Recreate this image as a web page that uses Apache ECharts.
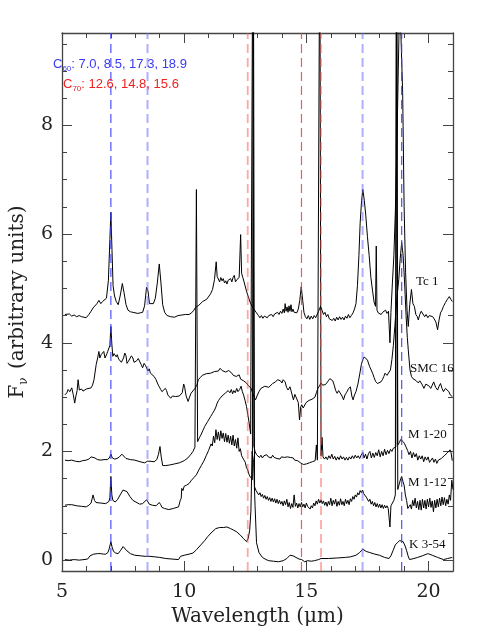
<!DOCTYPE html>
<html><head><meta charset="utf-8">
<script src="https://cdn.jsdelivr.net/npm/echarts@6/dist/echarts.min.js"></script>
<style>html,body{margin:0;padding:0;background:#fff}#c{width:477px;height:635px}</style>
</head><body><div id="c"></div>
<script>
// ---------------- data ----------------
const X_MIN = 5, X_MAX = 21, Y_MIN = -0.2, Y_MAX = 9.7;
const xTickLabels = [5, 10, 15, 20];
const xMinorTicks = [6, 7, 8, 9, 11, 12, 13, 14, 16, 17, 18, 19];
const yTickLabels = [0, 2, 4, 6, 8];
const yMinorTicks = [0.5, 1, 1.5, 2.5, 3, 3.5, 4.5, 5, 5.5, 6.5, 7, 7.5, 8.5, 9, 9.5];

const c60Lines = [7.0, 8.5, 17.3, 18.9];
const c70Lines = [12.6, 14.8, 15.6];
const spectrumNames = ['Tc 1', 'SMC 16', 'M 1-20', 'M 1-12', 'K 3-54'];

const tc1 = [[5.12,4.52],[5.20,4.50],[5.30,4.53],[5.40,4.49],[5.50,4.51],[5.60,4.48],[5.70,4.50],[5.80,4.48],[5.90,4.47],[5.99,4.46],[6.10,4.52],[6.19,4.58],[6.27,4.64],[6.35,4.66],[6.43,4.72],[6.51,4.78],[6.59,4.72],[6.66,4.76],[6.74,4.74],[6.82,4.82],[6.90,5.15],[6.96,5.90],[7.00,6.40],[7.04,5.80],[7.09,5.05],[7.15,4.86],[7.22,4.76],[7.30,4.70],[7.38,4.86],[7.47,5.09],[7.54,4.92],[7.62,4.70],[7.70,4.60],[7.80,4.57],[7.90,4.56],[7.98,4.55],[8.10,4.54],[8.20,4.55],[8.30,4.56],[8.38,4.68],[8.46,5.02],[8.52,4.95],[8.58,4.72],[8.66,4.70],[8.74,4.72],[8.82,4.82],[8.90,5.10],[8.98,5.45],[9.05,5.10],[9.12,4.70],[9.20,4.56],[9.30,4.50],[9.45,4.48],[9.60,4.47],[9.75,4.50],[9.90,4.51],[10.05,4.52],[10.20,4.52],[10.30,4.55],[10.40,4.60],[10.46,4.65],[10.52,4.62],[10.60,4.69],[10.68,4.72],[10.76,4.76],[10.84,4.74],[10.92,4.80],[11.00,4.82],[11.08,4.90],[11.16,4.98],[11.24,5.16],[11.31,5.49],[11.35,5.22],[11.40,5.20],[11.45,5.12],[11.50,5.20],[11.55,5.14],[11.60,5.18],[11.65,5.10],[11.70,5.14],[11.75,5.08],[11.80,5.15],[11.85,5.12],[11.90,5.18],[11.95,5.12],[12.00,5.20],[12.05,5.24],[12.10,5.12],[12.15,5.16],[12.20,5.13],[12.25,5.20],[12.31,5.99],[12.35,5.28],[12.40,5.20],[12.45,5.12],[12.50,5.10],[12.55,4.95],[12.60,4.88],[12.66,4.80],[12.72,4.72],[12.80,4.66],[12.88,4.60],[12.96,4.55],[13.04,4.50],[13.10,4.46],[13.16,4.50],[13.22,4.45],[13.28,4.49],[13.34,4.52],[13.40,4.46],[13.46,4.50],[13.52,4.47],[13.58,4.52],[13.64,4.48],[13.70,4.53],[13.76,4.50],[13.82,4.56],[13.88,4.52],[13.94,4.58],[14.00,4.54],[14.05,4.62],[14.10,4.55],[14.13,4.72],[14.17,4.58],[14.21,4.66],[14.25,4.56],[14.29,4.68],[14.33,4.58],[14.37,4.70],[14.41,4.57],[14.45,4.62],[14.50,4.56],[14.55,4.58],[14.61,4.55],[14.67,4.62],[14.73,4.78],[14.79,5.03],[14.85,4.78],[14.90,4.56],[14.96,4.48],[15.02,4.44],[15.08,4.50],[15.14,4.43],[15.20,4.49],[15.26,4.44],[15.32,4.50],[15.38,4.46],[15.44,4.48],[15.50,4.58],[15.58,4.67],[15.64,4.60],[15.70,4.52],[15.76,4.56],[15.82,4.48],[15.88,4.52],[15.94,4.44],[16.00,4.46],[16.06,4.41],[16.12,4.45],[16.18,4.40],[16.24,4.47],[16.30,4.42],[16.36,4.48],[16.42,4.43],[16.48,4.47],[16.54,4.42],[16.60,4.49],[16.66,4.45],[16.72,4.52],[16.78,4.46],[16.84,4.50],[16.91,4.55],[16.97,4.62],[17.03,4.72],[17.09,5.05],[17.15,5.60],[17.20,6.20],[17.26,6.62],[17.31,6.82],[17.37,6.62],[17.43,6.35],[17.50,5.95],[17.57,5.60],[17.64,5.20],[17.71,4.95],[17.77,4.75],[17.83,4.67],[17.86,5.78],[17.89,4.60],[17.94,4.55],[18.00,4.58],[18.06,4.52],[18.12,4.56],[18.18,4.54],[18.24,4.60],[18.30,4.54],[18.36,4.58],[18.42,4.00],[18.46,4.56],[18.52,5.10],[18.58,5.60],[18.64,6.40],[18.70,7.50],[18.76,9.00],[18.82,10.40],[18.88,10.40],[18.94,8.60],[19.00,6.50],[19.06,5.30],[19.12,4.60],[19.17,4.30],[19.23,4.70],[19.30,4.98],[19.36,4.72],[19.42,4.67],[19.48,4.52],[19.54,4.48],[19.58,4.42],[19.64,4.52],[19.70,4.58],[19.77,4.55],[19.84,4.48],[19.90,4.52],[19.97,4.46],[20.03,4.50],[20.10,4.52],[20.17,4.48],[20.23,4.44],[20.30,4.38],[20.37,4.24],[20.43,4.42],[20.49,4.55],[20.55,4.60],[20.61,4.67],[20.69,4.74],[20.77,4.80],[20.85,4.85],[20.91,4.80],[20.97,4.76]];

const smc16 = [[5.12,3.04],[5.20,3.08],[5.25,3.14],[5.32,3.10],[5.40,3.17],[5.46,3.05],[5.52,2.89],[5.57,3.02],[5.62,3.12],[5.66,3.32],[5.71,3.13],[5.80,3.15],[5.86,3.11],[5.91,3.10],[6.00,3.15],[6.08,3.13],[6.19,3.17],[6.25,3.22],[6.31,3.32],[6.40,3.60],[6.46,3.72],[6.51,3.84],[6.55,3.72],[6.60,3.78],[6.66,3.75],[6.71,3.84],[6.76,3.72],[6.79,3.69],[6.84,3.80],[6.87,3.84],[6.92,3.82],[6.96,3.95],[7.00,4.30],[7.04,3.98],[7.08,3.75],[7.13,3.80],[7.18,3.82],[7.22,3.74],[7.26,3.78],[7.32,3.70],[7.38,3.69],[7.43,3.64],[7.47,3.62],[7.52,3.72],[7.57,3.81],[7.62,3.76],[7.66,3.62],[7.72,3.66],[7.78,3.63],[7.84,3.76],[7.90,3.72],[7.95,3.64],[7.99,3.62],[8.06,3.67],[8.12,3.71],[8.18,3.68],[8.24,3.60],[8.30,3.54],[8.36,3.62],[8.42,3.58],[8.46,3.59],[8.52,3.48],[8.57,3.52],[8.62,3.44],[8.68,3.46],[8.77,3.38],[8.85,3.32],[8.92,3.24],[8.98,3.19],[9.04,3.14],[9.09,3.10],[9.17,3.07],[9.23,3.16],[9.28,3.12],[9.33,3.04],[9.40,3.02],[9.45,2.98],[9.52,3.02],[9.57,3.05],[9.65,3.01],[9.72,2.98],[9.80,3.02],[9.86,3.04],[9.92,3.08],[9.98,3.24],[10.02,3.18],[10.08,3.02],[10.16,2.92],[10.22,3.00],[10.28,3.07],[10.36,3.10],[10.44,3.16],[10.52,3.22],[10.58,3.32],[10.66,3.36],[10.74,3.40],[10.82,3.38],[10.90,3.43],[10.98,3.41],[11.08,3.44],[11.16,3.46],[11.24,3.47],[11.32,3.44],[11.40,3.48],[11.47,3.53],[11.55,3.49],[11.63,3.51],[11.70,3.46],[11.76,3.44],[11.82,3.49],[11.88,3.48],[11.95,3.44],[12.01,3.40],[12.07,3.42],[12.13,3.38],[12.19,3.36],[12.25,3.41],[12.31,3.33],[12.37,3.35],[12.43,3.30],[12.49,3.28],[12.55,3.26],[12.61,3.22],[12.66,3.19],[12.74,3.16],[12.80,3.08],[12.86,3.00],[12.92,2.95],[12.98,3.02],[13.06,3.10],[13.14,3.16],[13.22,3.19],[13.30,3.20],[13.38,3.17],[13.46,3.18],[13.54,3.19],[13.62,3.25],[13.68,3.22],[13.74,3.28],[13.82,3.32],[13.88,3.29],[13.94,3.30],[14.00,3.26],[14.05,3.32],[14.13,3.28],[14.19,3.18],[14.25,3.13],[14.33,3.19],[14.41,3.20],[14.47,2.95],[14.53,3.05],[14.61,3.07],[14.67,2.90],[14.72,2.58],[14.77,2.82],[14.81,2.86],[14.87,2.80],[14.93,2.83],[14.99,2.90],[15.05,2.88],[15.11,2.94],[15.17,2.92],[15.23,2.96],[15.29,2.95],[15.35,3.00],[15.41,3.08],[15.47,3.16],[15.53,3.20],[15.60,3.26],[15.66,3.22],[15.72,3.19],[15.78,3.23],[15.84,3.26],[15.90,3.30],[15.96,3.34],[16.02,3.35],[16.08,3.30],[16.14,3.22],[16.20,3.12],[16.26,3.07],[16.32,3.12],[16.40,3.10],[16.46,3.02],[16.52,2.95],[16.58,3.04],[16.64,3.08],[16.72,3.15],[16.80,3.19],[16.86,3.02],[16.91,2.95],[16.97,3.04],[17.03,3.10],[17.11,3.24],[17.19,3.44],[17.25,3.60],[17.31,3.69],[17.37,3.74],[17.43,3.75],[17.50,3.68],[17.59,3.56],[17.65,3.50],[17.71,3.44],[17.77,3.36],[17.83,3.29],[17.91,3.25],[17.99,3.23],[18.05,3.28],[18.11,3.32],[18.17,3.38],[18.22,3.44],[18.30,3.40],[18.38,3.38],[18.44,3.50],[18.50,3.69],[18.56,3.95],[18.62,4.30],[18.70,4.80],[18.78,5.16],[18.84,5.55],[18.90,5.85],[18.96,5.60],[19.02,5.10],[19.08,4.50],[19.13,4.10],[19.17,3.87],[19.24,3.50],[19.30,3.38],[19.36,3.34],[19.42,3.32],[19.50,3.30],[19.58,3.26],[19.64,3.30],[19.69,3.29],[19.75,3.22],[19.81,3.16],[19.89,3.24],[19.97,3.26],[20.03,3.20],[20.09,3.16],[20.15,3.22],[20.21,3.28],[20.29,3.18],[20.37,3.13],[20.43,3.20],[20.49,3.25],[20.55,3.16],[20.61,3.10],[20.69,3.16],[20.77,3.19],[20.83,3.10],[20.89,3.04],[20.97,3.01]];

const m120 = [[5.12,1.84],[5.25,1.83],[5.40,1.84],[5.55,1.82],[5.70,1.81],[5.85,1.83],[5.99,1.84],[6.10,1.86],[6.19,1.90],[6.27,1.93],[6.35,1.88],[6.45,1.85],[6.59,1.84],[6.72,1.85],[6.85,1.85],[6.94,1.88],[7.00,1.95],[7.06,1.88],[7.15,1.86],[7.25,1.87],[7.35,1.90],[7.45,1.95],[7.52,1.92],[7.62,1.87],[7.80,1.85],[7.98,1.84],[8.20,1.81],[8.38,1.79],[8.50,1.82],[8.60,1.82],[8.77,1.81],[8.88,1.85],[8.95,1.95],[9.01,2.09],[9.06,1.90],[9.12,1.74],[9.25,1.74],[9.40,1.75],[9.60,1.77],[9.80,1.79],[10.00,1.83],[10.15,1.88],[10.28,1.95],[10.36,2.00],[10.44,2.08],[10.50,6.82],[10.55,2.18],[10.62,2.25],[10.68,2.30],[10.76,2.38],[10.84,2.46],[10.96,2.55],[11.08,2.64],[11.16,2.70],[11.24,2.76],[11.30,2.82],[11.35,2.89],[11.41,2.94],[11.47,2.98],[11.55,3.02],[11.63,3.04],[11.70,3.08],[11.75,3.05],[11.80,3.12],[11.87,3.08],[11.93,3.14],[11.98,3.06],[12.03,3.12],[12.09,3.08],[12.15,3.16],[12.20,3.10],[12.27,3.14],[12.33,3.20],[12.38,3.10],[12.43,3.04],[12.49,2.94],[12.55,2.83],[12.61,2.66],[12.66,2.52],[12.72,2.32],[12.77,2.30],[12.81,12.0],[12.85,2.10],[12.90,2.00],[12.96,1.94],[13.02,1.92],[13.08,1.89],[13.14,1.93],[13.20,1.88],[13.26,1.92],[13.32,1.89],[13.38,1.94],[13.44,1.90],[13.50,1.92],[13.56,1.88],[13.62,1.93],[13.68,1.89],[13.74,1.91],[13.80,1.87],[13.86,1.90],[13.92,1.86],[13.98,1.90],[14.04,1.87],[14.10,1.89],[14.16,1.86],[14.22,1.90],[14.28,1.87],[14.34,1.89],[14.40,1.86],[14.46,1.88],[14.52,1.84],[14.58,1.86],[14.64,1.83],[14.70,1.82],[14.76,1.79],[14.82,1.77],[14.88,1.76],[14.94,1.74],[15.00,1.77],[15.06,1.75],[15.12,1.79],[15.18,1.78],[15.24,1.81],[15.30,1.80],[15.36,1.83],[15.41,2.12],[15.45,1.84],[15.50,1.86],[15.55,12.0],[15.60,1.92],[15.64,2.26],[15.68,1.90],[15.74,1.86],[15.80,1.90],[15.86,1.85],[15.92,1.92],[15.98,1.87],[16.04,1.95],[16.10,1.86],[16.16,1.91],[16.22,1.84],[16.28,1.90],[16.34,1.85],[16.40,1.92],[16.46,1.86],[16.52,1.90],[16.58,1.84],[16.64,1.89],[16.70,1.84],[16.76,1.90],[16.82,1.86],[16.88,1.92],[16.94,1.87],[17.00,1.93],[17.06,1.88],[17.12,1.92],[17.18,1.87],[17.24,1.93],[17.31,1.98],[17.36,1.88],[17.42,1.95],[17.48,1.86],[17.54,1.96],[17.60,2.00],[17.66,1.88],[17.72,1.97],[17.78,1.89],[17.84,1.98],[17.90,1.92],[17.96,2.03],[18.02,1.90],[18.08,2.00],[18.14,1.92],[18.20,2.04],[18.26,1.94],[18.32,2.02],[18.38,1.96],[18.44,2.04],[18.50,2.00],[18.56,2.06],[18.62,2.05],[18.66,2.08],[18.70,12.0],[18.74,2.12],[18.80,2.16],[18.86,2.22],[18.90,2.24],[18.96,2.18],[19.02,2.14],[19.08,2.08],[19.14,2.02],[19.20,1.94],[19.26,2.00],[19.32,1.88],[19.38,1.98],[19.44,1.90],[19.50,1.96],[19.56,1.84],[19.62,1.92],[19.68,1.86],[19.74,1.92],[19.80,1.81],[19.86,1.90],[19.92,1.84],[19.98,1.90],[20.04,1.80],[20.10,1.78],[20.16,1.88],[20.22,1.80],[20.28,1.86],[20.34,1.78],[20.40,1.84],[20.46,1.82],[20.52,1.87],[20.58,1.85],[20.64,1.92],[20.70,1.90],[20.76,1.97],[20.82,1.95],[20.88,2.03],[20.92,1.98],[20.97,1.83]];

const m112 = [[5.12,1.01],[5.25,1.02],[5.40,1.02],[5.60,1.00],[5.80,0.99],[5.99,0.98],[6.10,1.01],[6.19,1.05],[6.27,1.20],[6.33,1.10],[6.39,1.06],[6.59,1.05],[6.79,1.04],[6.92,1.08],[6.96,1.15],[7.00,1.54],[7.04,1.20],[7.08,1.10],[7.18,1.07],[7.28,1.12],[7.38,1.20],[7.50,1.29],[7.58,1.28],[7.66,1.26],[7.78,1.17],[7.90,1.10],[7.98,1.07],[8.18,1.03],[8.30,1.04],[8.38,1.06],[8.46,1.11],[8.52,1.07],[8.57,1.03],[8.70,1.01],[8.85,1.00],[8.98,1.06],[9.04,1.02],[9.09,0.97],[9.20,0.95],[9.37,0.93],[9.55,0.95],[9.77,0.98],[9.84,1.10],[9.88,1.14],[9.90,1.32],[9.95,1.28],[10.00,1.36],[10.05,1.33],[10.10,1.38],[10.15,1.35],[10.20,1.41],[10.25,1.40],[10.30,1.47],[10.35,1.44],[10.40,1.52],[10.45,1.50],[10.50,1.57],[10.55,1.58],[10.60,1.66],[10.65,1.64],[10.70,1.74],[10.75,1.73],[10.80,1.82],[10.85,1.80],[10.90,1.92],[10.95,1.90],[11.00,2.02],[11.05,2.03],[11.10,2.14],[11.15,2.10],[11.20,2.28],[11.25,2.16],[11.30,2.40],[11.35,2.22],[11.40,2.36],[11.45,2.20],[11.50,2.38],[11.55,2.24],[11.60,2.34],[11.65,2.18],[11.70,2.33],[11.75,2.17],[11.80,2.30],[11.85,2.15],[11.90,2.28],[11.95,2.12],[12.00,2.30],[12.05,2.10],[12.10,2.22],[12.15,2.06],[12.20,2.25],[12.25,2.00],[12.30,2.05],[12.35,1.92],[12.40,1.95],[12.45,1.84],[12.50,1.80],[12.55,1.70],[12.60,1.66],[12.66,1.57],[12.72,1.52],[12.79,1.48],[12.83,12.0],[12.88,1.35],[12.94,1.28],[13.00,1.26],[13.05,1.20],[13.10,1.24],[13.15,1.17],[13.20,1.21],[13.25,1.14],[13.30,1.19],[13.35,1.12],[13.40,1.17],[13.45,1.10],[13.50,1.15],[13.55,1.08],[13.60,1.14],[13.65,1.07],[13.70,1.13],[13.75,1.05],[13.80,1.12],[13.85,1.04],[13.90,1.10],[13.95,1.03],[14.00,1.08],[14.05,1.00],[14.10,1.09],[14.15,1.02],[14.20,1.12],[14.25,0.98],[14.30,1.06],[14.35,0.95],[14.40,1.04],[14.45,0.97],[14.50,1.20],[14.55,0.99],[14.60,1.05],[14.65,0.96],[14.70,1.04],[14.75,0.98],[14.80,1.06],[14.85,0.98],[14.90,1.03],[14.95,0.96],[15.00,1.05],[15.05,0.99],[15.10,1.02],[15.15,0.94],[15.20,1.00],[15.25,0.96],[15.30,1.05],[15.35,1.00],[15.40,1.09],[15.45,1.03],[15.50,1.12],[15.55,1.05],[15.60,1.11],[15.65,1.04],[15.70,1.09],[15.75,1.01],[15.80,1.07],[15.85,0.99],[15.90,1.08],[15.95,1.02],[16.00,1.14],[16.05,1.00],[16.10,1.10],[16.15,1.03],[16.20,1.12],[16.25,0.99],[16.30,1.08],[16.35,1.01],[16.40,1.13],[16.45,1.02],[16.50,1.08],[16.55,1.00],[16.60,1.12],[16.65,1.04],[16.70,1.10],[16.75,1.02],[16.80,1.13],[16.85,1.08],[16.90,1.17],[16.95,1.12],[17.00,1.20],[17.05,1.16],[17.10,1.24],[17.15,1.20],[17.20,1.28],[17.25,1.24],[17.30,1.29],[17.35,1.22],[17.40,1.25],[17.45,1.16],[17.50,1.18],[17.55,1.08],[17.60,1.12],[17.65,1.03],[17.70,1.08],[17.75,1.00],[17.80,1.06],[17.85,0.98],[17.90,1.04],[17.95,0.97],[18.00,1.03],[18.05,0.96],[18.10,1.02],[18.15,0.95],[18.20,1.01],[18.25,0.96],[18.30,1.00],[18.35,0.95],[18.42,0.61],[18.46,1.00],[18.52,1.03],[18.58,1.10],[18.64,1.20],[18.68,12.0],[18.74,1.30],[18.80,1.40],[18.86,1.50],[18.90,1.54],[18.95,1.45],[19.00,1.38],[19.05,1.20],[19.10,1.10],[19.15,0.95],[19.20,0.92],[19.25,1.02],[19.30,0.94],[19.35,1.10],[19.40,1.00],[19.45,1.14],[19.50,0.96],[19.55,1.08],[19.60,0.93],[19.65,1.10],[19.70,0.92],[19.75,1.12],[19.80,0.96],[19.85,1.10],[19.90,0.94],[19.95,1.12],[20.00,0.98],[20.05,1.14],[20.10,0.97],[20.15,1.09],[20.20,0.89],[20.25,1.10],[20.30,0.96],[20.35,1.12],[20.40,0.98],[20.45,1.14],[20.50,1.00],[20.55,1.16],[20.60,1.02],[20.65,1.15],[20.70,1.00],[20.75,1.12],[20.80,1.03],[20.85,1.20],[20.90,1.10],[20.95,1.47],[21.00,1.30]];

const k354 = [[5.12,0.01],[5.30,0.00],[5.50,0.01],[5.70,0.00],[5.90,0.01],[6.05,0.02],[6.15,0.08],[6.20,0.10],[6.30,0.11],[6.45,0.12],[6.59,0.12],[6.70,0.11],[6.79,0.11],[6.88,0.14],[6.94,0.22],[7.00,0.34],[7.05,0.24],[7.11,0.16],[7.20,0.13],[7.30,0.12],[7.40,0.18],[7.50,0.25],[7.58,0.24],[7.66,0.17],[7.80,0.12],[7.98,0.09],[8.20,0.08],[8.40,0.07],[8.60,0.07],[8.80,0.06],[9.00,0.05],[9.25,0.03],[9.50,0.02],[9.77,0.01],[9.85,0.07],[10.00,0.09],[10.20,0.11],[10.36,0.13],[10.50,0.19],[10.68,0.28],[10.84,0.36],[10.96,0.43],[11.10,0.50],[11.29,0.58],[11.45,0.60],[11.60,0.60],[11.75,0.61],[11.90,0.58],[12.03,0.55],[12.15,0.52],[12.30,0.46],[12.42,0.40],[12.55,0.34],[12.62,0.40],[12.68,0.55],[12.73,0.90],[12.78,2.00],[12.84,1.80],[12.90,1.00],[12.96,0.32],[13.06,0.14],[13.20,0.05],[13.35,0.01],[13.46,-0.01],[13.65,-0.02],[13.86,-0.03],[14.05,-0.01],[14.20,0.03],[14.33,0.09],[14.45,0.08],[14.53,0.06],[14.70,0.02],[14.81,0.01],[14.93,-0.03],[15.05,-0.01],[15.20,-0.02],[15.33,-0.01],[15.50,0.01],[15.60,0.03],[15.90,0.03],[16.27,0.04],[16.60,0.05],[16.80,0.06],[17.03,0.09],[17.18,0.14],[17.31,0.20],[17.45,0.16],[17.59,0.14],[17.80,0.11],[17.99,0.09],[18.20,0.05],[18.38,0.03],[18.46,0.08],[18.55,0.18],[18.64,0.28],[18.72,0.32],[18.82,0.36],[18.96,0.34],[19.04,0.26],[19.10,0.18],[19.16,0.08],[19.22,0.01],[19.40,0.03],[19.55,0.05],[19.75,0.08],[19.97,0.12],[20.15,0.09],[20.37,0.05],[20.61,0.01],[20.78,0.03],[20.97,0.05]];

const spectra = [tc1, smc16, m120, m112, k354];

// ---------------- styling / layout ----------------
const AXIS_COLOR = '#444';
const serif = 'DejaVu Serif';
const strongLines = [7.0, 18.9, 14.8];

function xAxisDef(position, ticks, len, labels, line) {
  return {
    type: 'value', min: X_MIN, max: X_MAX, position: position, gridIndex: 0,
    axisLine: {show: line, onZero: false, lineStyle: {color: AXIS_COLOR, width: 1.3}},
    axisTick: {show: true, inside: true, length: len, customValues: ticks, lineStyle: {color: AXIS_COLOR, width: 1}},
    axisLabel: labels ? {show: true, customValues: ticks, margin: 12, color: '#222', fontFamily: serif, fontSize: 19} : {show: false},
    splitLine: {show: false}
  };
}
function yAxisDef(position, ticks, len, labels, line) {
  return {
    type: 'value', min: Y_MIN, max: Y_MAX, position: position, gridIndex: 0,
    axisLine: {show: line, onZero: false, lineStyle: {color: AXIS_COLOR, width: 1.3}},
    axisTick: {show: true, inside: true, length: len, customValues: ticks, lineStyle: {color: AXIS_COLOR, width: 1}},
    axisLabel: labels ? {show: true, customValues: ticks, margin: 9, color: '#222', fontFamily: serif, fontSize: 19} : {show: false},
    splitLine: {show: false}
  };
}

const xAxes = [
  Object.assign(xAxisDef('bottom', xTickLabels, 10, true, true), {
    name: 'Wavelength (μm)', nameLocation: 'middle', nameGap: 36,
    nameTextStyle: {fontFamily: serif, fontSize: 20, color: '#222'}
  }),
  xAxisDef('bottom', xMinorTicks, 5, false, false),
  xAxisDef('top', xTickLabels, 10, false, true),
  xAxisDef('top', xMinorTicks, 5, false, false)
];
const yAxes = [
  Object.assign(yAxisDef('left', yTickLabels, 10, true, true), {
    name: '{a|F}{s|ν}{a| (arbitrary units)}', nameLocation: 'middle', nameGap: 26, nameRotate: 90,
    nameTextStyle: {
      rich: {
        a: {fontFamily: serif, fontSize: 20, color: '#222', lineHeight: 24, verticalAlign: 'middle'},
        s: {fontFamily: serif, fontSize: 12, color: '#222', lineHeight: 24, verticalAlign: 'bottom', padding: [0, 2, 0, 0]}
      }
    }
  }),
  yAxisDef('left', yMinorTicks, 5, false, false),
  yAxisDef('right', yTickLabels, 10, false, true),
  yAxisDef('right', yMinorTicks, 5, false, false)
];

const series = spectra.map((d, i) => ({
  name: spectrumNames[i], type: 'line', xAxisIndex: 0, yAxisIndex: 0,
  data: d, showSymbol: false, symbol: 'none', clip: true, silent: true,
  lineStyle: {color: '#000', width: 1}, z: 2
}));

function dashSeries(v, color, width) {
  return {
    type: 'line', xAxisIndex: 0, yAxisIndex: 0, silent: true, showSymbol: false, symbol: 'none',
    data: [[v, Y_MIN], [v, Y_MAX]],
    lineStyle: {color: color, width: width, type: [9, 5]}, z: 3
  };
}
c60Lines.forEach(v => {
  const strong = strongLines.indexOf(v) >= 0;
  series.push(dashSeries(v, strong ? 'rgba(60,60,255,0.9)' : 'rgba(110,110,255,0.55)', strong ? 1.2 : 2));
});
c70Lines.forEach(v => {
  const strong = strongLines.indexOf(v) >= 0;
  series.push(dashSeries(v, strong ? 'rgba(235,50,50,0.8)' : 'rgba(255,80,80,0.5)', strong ? 1.2 : 1.8));
});

const labelPos = [[416, 282], [410, 369], [408, 435], [408, 483], [409, 545]];
const labelFont = 'Liberation Serif';
const graphics = spectrumNames.map((t, i) => ({
  type: 'text', left: labelPos[i][0], top: labelPos[i][1] - 7,
  style: {text: t, fill: '#111', font: '13px "' + labelFont + '"'}, z: 10
}));

const annSans = 'Liberation Sans';
graphics.push({
  type: 'text', left: 53, top: 58, z: 10,
  style: {
    text: '{m|C}{s|60}{m|: ' + c60Lines.map(v => v.toFixed(1)).join(', ') + '}',
    rich: {
      m: {fontFamily: annSans, fontSize: 13, fill: '#3a3af0', lineHeight: 16, verticalAlign: 'middle'},
      s: {fontFamily: annSans, fontSize: 8, fill: '#3a3af0', lineHeight: 16, verticalAlign: 'bottom'}
    }
  }
});
graphics.push({
  type: 'text', left: 63, top: 78, z: 10,
  style: {
    text: '{m|C}{s|70}{m|: ' + c70Lines.map(v => v.toFixed(1)).join(', ') + '}',
    rich: {
      m: {fontFamily: annSans, fontSize: 13, fill: '#ee2222', lineHeight: 16, verticalAlign: 'middle'},
      s: {fontFamily: annSans, fontSize: 8, fill: '#ee2222', lineHeight: 16, verticalAlign: 'bottom'}
    }
  }
});

const chart = echarts.init(document.getElementById('c'), null, {renderer: 'canvas'});
chart.setOption({
  animation: false,
  backgroundColor: '#fff',
  grid: {left: 50, right: 24, top: 33, bottom: 64, containLabel: false},
  xAxis: xAxes,
  yAxis: yAxes,
  series: series,
  graphic: graphics
});
</script></body></html>
